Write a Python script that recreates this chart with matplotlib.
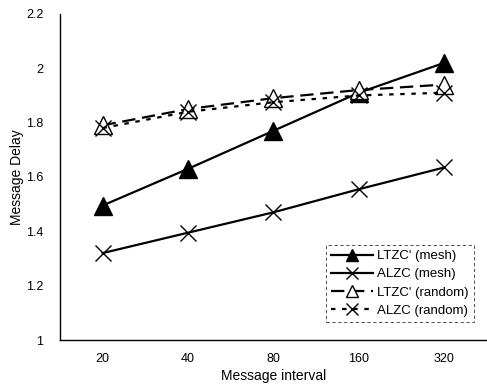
import matplotlib.pyplot as plt

plt.rcParams['font.family'] = ['Liberation Sans', 'DejaVu Sans']

# data
intervals = ["20", "40", "80", "160", "320"]
ltzc_mesh = [1.495, 1.63, 1.77, 1.91, 2.02]
alzc_mesh = [1.32, 1.395, 1.47, 1.555, 1.635]
ltzc_random = [1.79, 1.85, 1.89, 1.92, 1.94]
alzc_random = [1.78, 1.84, 1.875, 1.90, 1.91]

x = range(len(intervals))

fig = plt.figure(figsize=(4.87, 3.86), dpi=100)
ax = fig.add_axes([0.123, 0.119, 0.877, 0.845])

ax.plot(x, ltzc_mesh, color="black", lw=1.6, marker="^", ms=13,
        mfc="black", mec="black", label="LTZC' (mesh)")
ax.plot(x, alzc_mesh, color="black", lw=1.6, marker="x", ms=12,
        mew=1.0, label="ALZC (mesh)")
ax.plot(x, ltzc_random, color="black", lw=1.6, ls=(0, (6, 3)), marker="^",
        ms=13, mfc="white", mec="black", mew=1.0, label="LTZC' (random)")
ax.plot(x, alzc_random, color="black", lw=1.6, ls=(0, (2, 3)), marker="x",
        ms=12, mew=1.0, label="ALZC (random)")

ax.set_xlim(-0.5, 4.5)
ax.set_ylim(1, 2.2)
ax.set_xticks(list(x))
ax.set_xticklabels(intervals)
ax.set_yticks([1, 1.2, 1.4, 1.6, 1.8, 2, 2.2])
ax.set_yticklabels(["1", "1.2", "1.4", "1.6", "1.8", "2", "2.2"])
ax.tick_params(length=0, labelsize=9)
ax.tick_params(axis="y", pad=12)
ax.tick_params(axis="x", pad=9)

ax.spines["top"].set_visible(False)
ax.spines["right"].set_visible(False)
ax.spines["left"].set_linewidth(1.0)
ax.spines["bottom"].set_linewidth(1.0)

ax.set_xlabel("Message interval", fontsize=10, labelpad=3)
ax.set_ylabel("Message Delay", fontsize=10, labelpad=1)

leg = ax.legend(loc="lower right", bbox_to_anchor=(0.985, 0.035), fontsize=9.5,
                handlelength=3.2, handletextpad=0.3, labelspacing=0.45,
                frameon=True, fancybox=False, borderpad=0.4)
leg.get_frame().set_edgecolor("black")
leg.get_frame().set_linestyle((0, (4, 3)))
leg.get_frame().set_linewidth(0.6)
for h in leg.legend_handles:
    h.set_markersize(8)

fig.savefig("out.png", dpi=100)
